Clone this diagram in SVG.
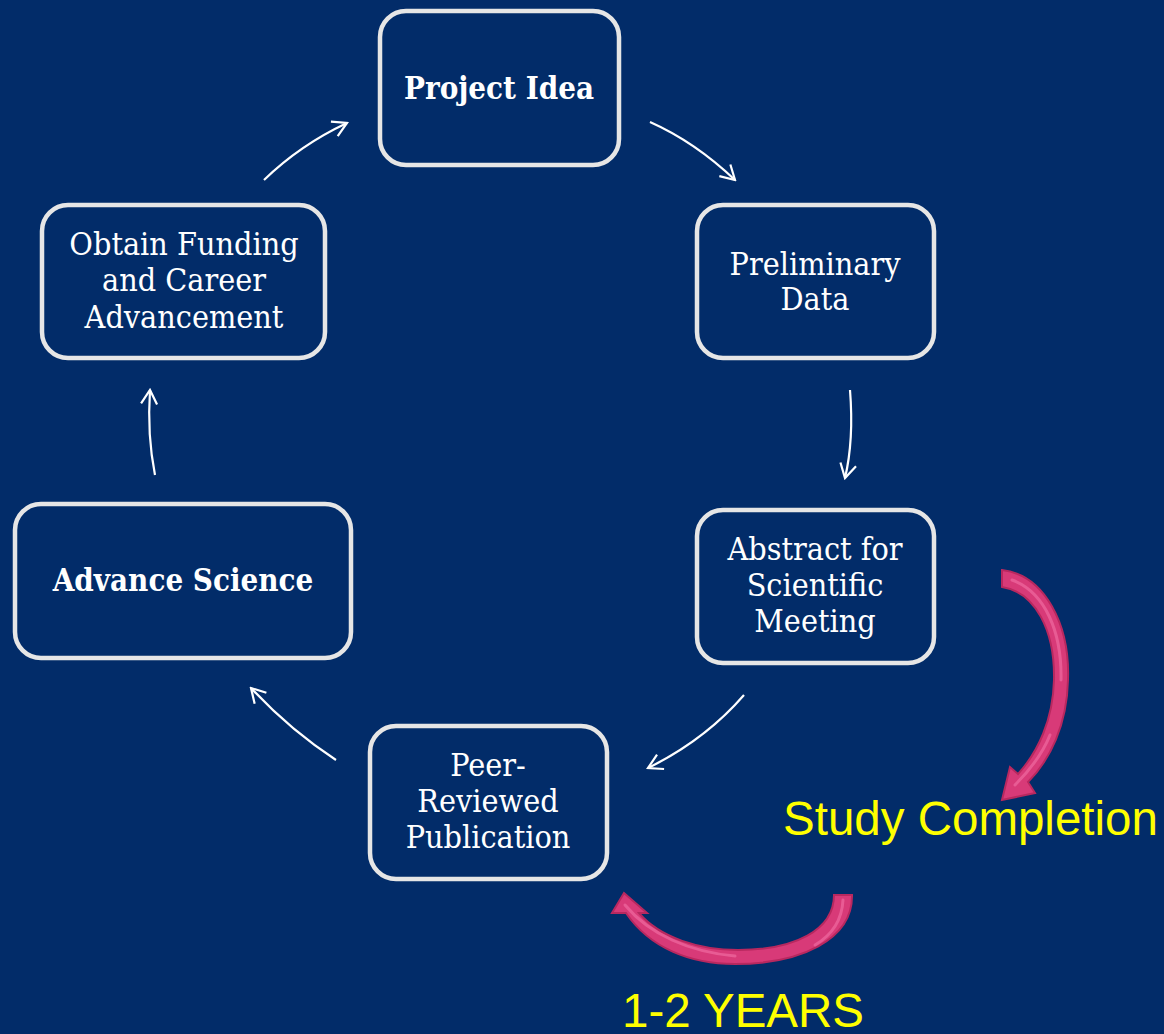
<svg xmlns="http://www.w3.org/2000/svg" width="1164" height="1034" viewBox="0 0 1164 1034">
<defs>
<style>
.box{fill:#022c69;stroke:#e6e6e6;stroke-width:4.5}
.t{font-family:"DejaVu Serif Condensed","DejaVu Serif","Liberation Serif",serif;font-stretch:condensed;font-size:32px;fill:#ffffff;text-anchor:middle}
.b{font-weight:bold;font-size:31px}
.c{fill:none;stroke:#ffffff;stroke-width:2.2}
.y{font-family:"Liberation Sans",Arial,sans-serif;font-size:47.5px;fill:#ffff00}
.pink{fill:#d83a78;stroke:#b8285f;stroke-width:2}
.hl{fill:none;stroke:#f06aa0;stroke-width:3;stroke-linecap:round;opacity:0.7}
</style>
<marker id="ah" viewBox="0 0 20 20" refX="18" refY="10" markerWidth="20" markerHeight="20" markerUnits="userSpaceOnUse" orient="auto">
<path d="M4,2 L18,10 L4,18" fill="none" stroke="#ffffff" stroke-width="2.2"/>
</marker>
</defs>
<rect width="1164" height="1034" fill="#022c69"/>
<g id="n-project">
<rect class="box" x="380" y="11" width="239" height="154" rx="26"/>
<text class="t b" x="499" y="99">Project Idea</text>
</g>
<g id="n-prelim">
<rect class="box" x="697" y="205" width="237" height="153" rx="26"/>
<text class="t" x="815" y="275">Preliminary</text>
<text class="t" x="815" y="310">Data</text>
</g>
<g id="n-abstract">
<rect class="box" x="697" y="510" width="237" height="153" rx="26"/>
<text class="t" x="815" y="560">Abstract for</text>
<text class="t" x="815" y="596">Scientific</text>
<text class="t" x="815" y="632">Meeting</text>
</g>
<g id="n-peer">
<rect class="box" x="370" y="726" width="237" height="153" rx="26"/>
<text class="t" x="488" y="776">Peer-</text>
<text class="t" x="488" y="812">Reviewed</text>
<text class="t" x="488" y="848">Publication</text>
</g>
<g id="n-advance">
<rect class="box" x="15" y="504" width="336" height="154" rx="26"/>
<text class="t b" x="183" y="591">Advance Science</text>
</g>
<g id="n-funding">
<rect class="box" x="42" y="205" width="283" height="153" rx="26"/>
<text class="t" x="184" y="255">Obtain Funding</text>
<text class="t" x="184" y="291">and Career</text>
<text class="t" x="184" y="328">Advancement</text>
</g>
<g id="connectors">
<path class="c" d="M264,180 Q300,145 347,123" marker-end="url(#ah)"/>
<path class="c" d="M650,122 Q695,142 735,180" marker-end="url(#ah)"/>
<path class="c" d="M850,390 Q854,440 845,478" marker-end="url(#ah)"/>
<path class="c" d="M744,695 Q705,740 648,768" marker-end="url(#ah)"/>
<path class="c" d="M336,760 Q290,730 251,688" marker-end="url(#ah)"/>
<path class="c" d="M155,475 Q147,435 150,390" marker-end="url(#ah)"/>
<path class="pink" d="M1002,570 C1045,575 1070,625 1068,680 C1067,725 1050,760 1028,782 L1035,793 L1002,800 L1010,767 L1018,774 C1038,752 1053,720 1054,680 C1055,630 1035,592 1002,587 Z"/>
<path class="hl" d="M1012,580 C1045,592 1062,632 1061,680"/>
<path class="hl" d="M1050,735 C1042,755 1030,770 1015,785"/>
<path class="pink" d="M852,895 C853,940 800,964 735,964 C690,964 650,948 626,913 L612,913 L624,893 L647,913 L639,913 C660,938 700,950 738,950 C795,950 834,930 834,895 Z"/>
<path class="hl" d="M625,905 C650,935 690,952 735,956"/>
<path class="hl" d="M843,900 C842,920 832,935 815,945"/>
</g>
<text class="y" x="783" y="835">Study Completion</text>
<text class="y" x="622" y="1027">1-2 YEARS</text>
</svg>
